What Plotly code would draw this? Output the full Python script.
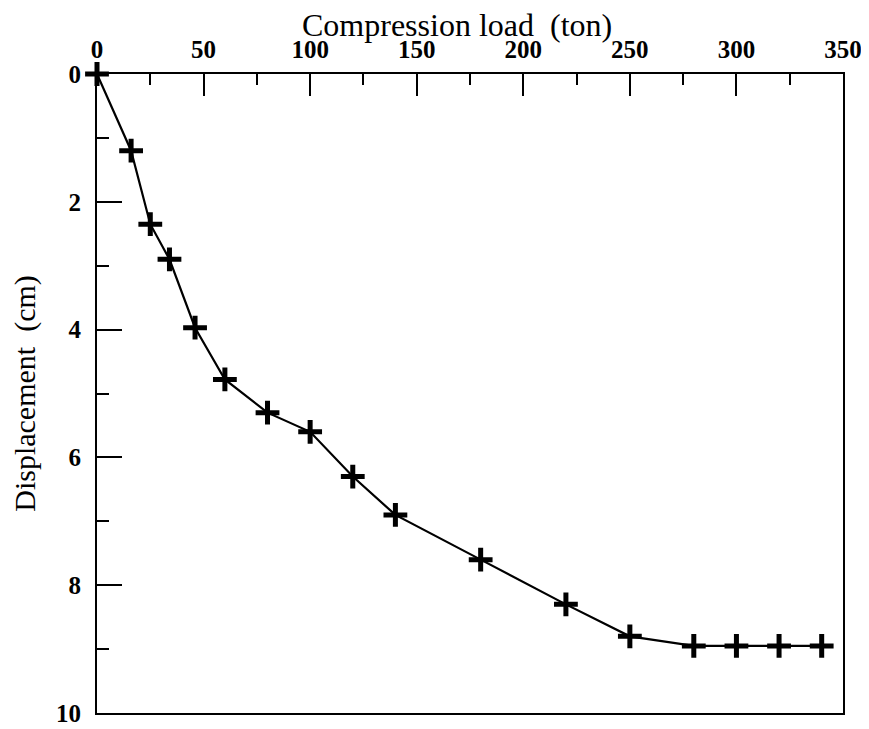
import plotly.graph_objects as go

# Data
load_ton = [0, 16, 25, 34, 46, 60, 80, 100, 120, 140, 180, 220, 250, 280, 300, 320, 340]
displacement_cm = [0, 1.2, 2.35, 2.9, 3.97, 4.78, 5.3, 5.6, 6.3, 6.9, 7.6, 8.3, 8.8, 8.95, 8.95, 8.95, 8.95]

x_tick_vals = [0, 50, 100, 150, 200, 250, 300, 350]
y_tick_vals = [0, 2, 4, 6, 8, 10]
x_title = "Compression load  (ton)"
y_title = "Displacement  (cm)"

FONT = "Liberation Serif, Times New Roman, serif"

fig = go.Figure()
fig.add_trace(go.Scatter(
    x=load_ton, y=displacement_cm,
    mode="lines+markers",
    line=dict(color="black", width=2.2),
    marker=dict(symbol="cross-thin", size=17, color="black",
                line=dict(color="black", width=5)),
    cliponaxis=False,
    showlegend=False,
))

# page body has an 8px default margin, so the figure is offset by 8px
fig.update_layout(
    width=861, height=721,
    margin=dict(l=89, r=26, t=66, b=16),
    paper_bgcolor="white", plot_bgcolor="white",
    font=dict(family=FONT, color="black"),
)

# x-axis title drawn as an annotation so it can sit above the margin limit
fig.add_annotation(
    text=x_title, xref="paper", yref="paper", x=0.483, y=1,
    xanchor="center", yanchor="middle", yshift=49, showarrow=False,
    font=dict(family=FONT, size=32, color="black"),
)

fig.update_xaxes(
    side="top", range=[0, 350], autorange=False,
    tickvals=x_tick_vals, ticktext=[str(v) for v in x_tick_vals],
    ticks="inside", ticklen=22, tickwidth=2, tickcolor="black",
    minor=dict(dtick=25, tick0=0, ticks="inside", ticklen=11, tickwidth=2, tickcolor="black"),
    showline=True, linewidth=2, linecolor="black", mirror=True,
    showgrid=False, zeroline=False,
    tickfont=dict(family=FONT, size=25, color="black", weight="bold"),
    ticklabelstandoff=4,
    automargin=False,
)

fig.update_yaxes(
    range=[10, 0], autorange=False,
    tickvals=y_tick_vals, ticktext=[str(v) for v in y_tick_vals],
    ticks="inside", ticklen=25, tickwidth=2, tickcolor="black",
    minor=dict(dtick=1, tick0=0, ticks="inside", ticklen=12, tickwidth=2, tickcolor="black"),
    showline=True, linewidth=2, linecolor="black", mirror=True,
    showgrid=False, zeroline=False,
    tickfont=dict(family=FONT, size=25, color="black", weight="bold"),
    ticklabelstandoff=9,
    title=dict(text=y_title, font=dict(family=FONT, size=30, color="black"), standoff=21),
    automargin=False,
)

fig.write_html("out.html")
